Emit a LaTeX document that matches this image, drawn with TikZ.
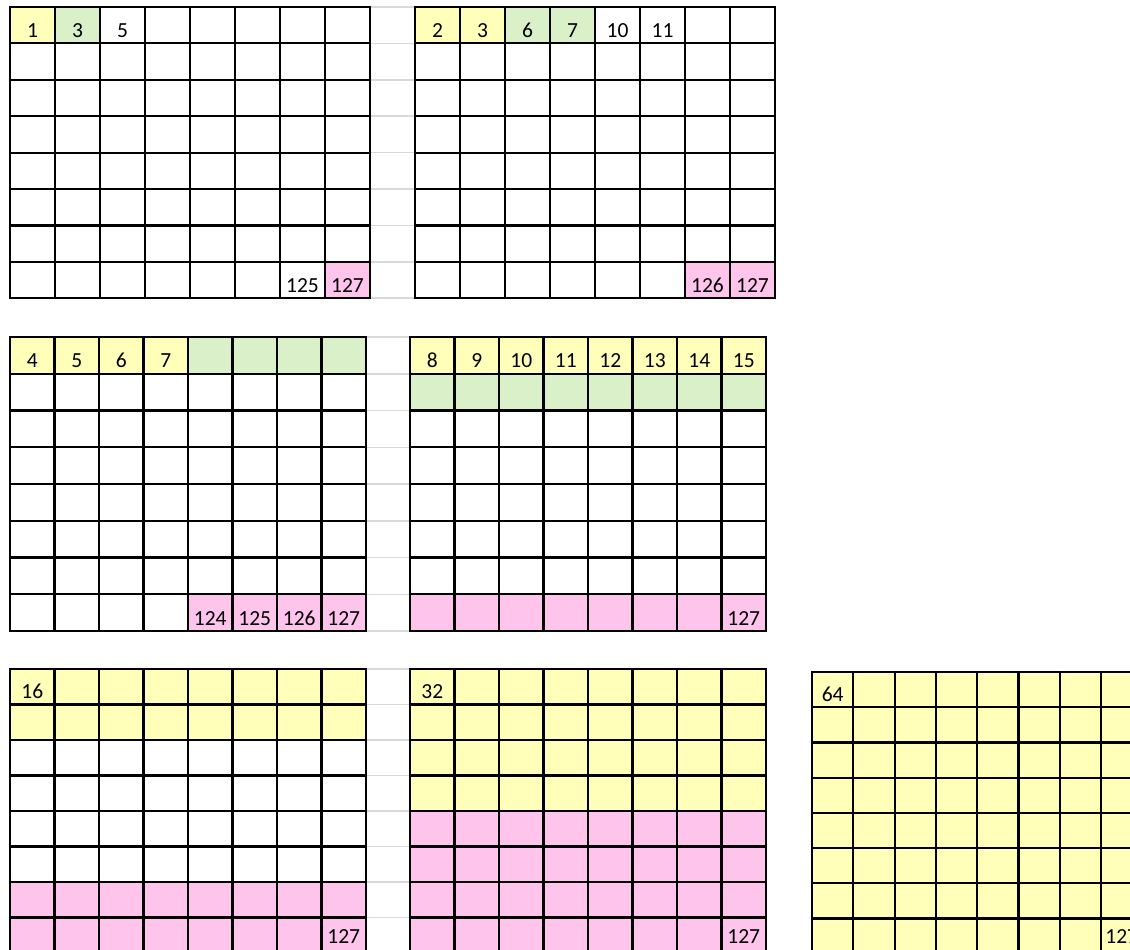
\documentclass[tikz,border=0pt]{standalone}
\usepackage{fontspec}
\setmainfont{Carlito}
\definecolor{cellyellow}{HTML}{FFFFB9}
\definecolor{cellgreen}{HTML}{D9F0C9}
\definecolor{cellpink}{HTML}{FFC4EC}
\definecolor{gapgray}{HTML}{D9D9D9}
\tikzset{
  cellline/.style={line width=2.2pt,line cap=rect},
  gapline/.style={line width=1.5pt,gapgray},
  num/.style={anchor=base,yshift=6pt,inner sep=0pt,font=\fontsize{21.5}{25}\selectfont}
}
\begin{document}
\begin{tikzpicture}[x=1pt,y=-1pt]
  \useasboundingbox (0,0) rectangle (1130,950);
  \clip (0,0) rectangle (1130,950);
  % grey lines between the grids
  \foreach \i in {0,...,8} {
    \draw[gapline] (370,7+\i*36.4) -- (415,7+\i*36.4);
    \draw[gapline] (366,337+\i*36.75) -- (410,337+\i*36.75);
    \draw[gapline] (366,669+\i*35.5) -- (410,669+\i*35.5);
  }
  % top left
  \begin{scope}[shift={(10,7)},x=45pt,y=-36.4pt]
    \fill[cellyellow] (0,0) rectangle (1,1);
    \fill[cellgreen] (1,0) rectangle (2,1);
    \fill[cellpink] (7,7) rectangle (8,8);
    \foreach \i in {0,...,8} {
      \draw[cellline] (\i,0) -- (\i,8);
      \draw[cellline] (0,\i) -- (8,\i);
    }
    \node[num] (a1) at (0.5,1) {1};
    \node[num] (a3) at (1.5,1) {3};
    \node[num] (a5) at (2.5,1) {5};
    \node[num] (a125) at (6.5,8) {125};
    \node[num] (a127) at (7.5,8) {127};
  \end{scope}
  % top right
  \begin{scope}[shift={(415,7)},x=45pt,y=-36.4pt]
    \fill[cellyellow] (0,0) rectangle (2,1);
    \fill[cellgreen] (2,0) rectangle (4,1);
    \fill[cellpink] (6,7) rectangle (8,8);
    \foreach \i in {0,...,8} {
      \draw[cellline] (\i,0) -- (\i,8);
      \draw[cellline] (0,\i) -- (8,\i);
    }
    \foreach \n [count=\c] in {2,3,6,7,10,11}
      \node[num] (b\n) at (\c-0.5,1) {\n};
    \node[num] (b126) at (6.5,8) {126};
    \node[num] (b127) at (7.5,8) {127};
  \end{scope}
  % middle left
  \begin{scope}[shift={(10,337)},x=44.5pt,y=-36.75pt]
    \fill[cellyellow] (0,0) rectangle (4,1);
    \fill[cellgreen] (4,0) rectangle (8,1);
    \fill[cellpink] (4,7) rectangle (8,8);
    \foreach \i in {0,...,8} {
      \draw[cellline] (\i,0) -- (\i,8);
      \draw[cellline] (0,\i) -- (8,\i);
    }
    \foreach \n [count=\c] in {4,...,7}
      \node[num] (c\n) at (\c-0.5,1) {\n};
    \foreach \n [count=\c] in {124,...,127}
      \node[num] (c\n) at (\c+3.5,8) {\n};
  \end{scope}
  % middle right
  \begin{scope}[shift={(410,337)},x=44.5pt,y=-36.75pt]
    \fill[cellyellow] (0,0) rectangle (8,1);
    \fill[cellgreen] (0,1) rectangle (8,2);
    \fill[cellpink] (0,7) rectangle (8,8);
    \foreach \i in {0,...,8} {
      \draw[cellline] (\i,0) -- (\i,8);
      \draw[cellline] (0,\i) -- (8,\i);
    }
    \foreach \n [count=\c] in {8,...,15}
      \node[num] (d\n) at (\c-0.5,1) {\n};
    \node[num] (d127) at (7.5,8) {127};
  \end{scope}
  % bottom left
  \begin{scope}[shift={(10,669)},x=44.5pt,y=-35.5pt]
    \fill[cellyellow] (0,0) rectangle (8,2);
    \fill[cellpink] (0,6) rectangle (8,8);
    \foreach \i in {0,...,8} {
      \draw[cellline] (\i,0) -- (\i,8);
      \draw[cellline] (0,\i) -- (8,\i);
    }
    \node[num] (e16) at (0.5,1) {16};
    \node[num,yshift=4pt] (e127) at (7.5,8) {127};
  \end{scope}
  % bottom middle
  \begin{scope}[shift={(410,669)},x=44.5pt,y=-35.5pt]
    \fill[cellyellow] (0,0) rectangle (8,4);
    \fill[cellpink] (0,4) rectangle (8,8);
    \foreach \i in {0,...,8} {
      \draw[cellline] (\i,0) -- (\i,8);
      \draw[cellline] (0,\i) -- (8,\i);
    }
    \node[num] (f32) at (0.5,1) {32};
    \node[num,yshift=4pt] (f127) at (7.5,8) {127};
  \end{scope}
  % bottom right
  \begin{scope}[shift={(812,672)},x=41.3pt,y=-35.2pt]
    \fill[cellyellow] (0,0) rectangle (8,8);
    \foreach \i in {0,...,8} {
      \draw[cellline] (\i,0) -- (\i,8);
      \draw[cellline] (0,\i) -- (8,\i);
    }
    \node[num] (g64) at (0.5,1) {64};
    \node[num,yshift=4pt] (g127) at (7.5,8) {127};
  \end{scope}
\end{tikzpicture}
\end{document}
